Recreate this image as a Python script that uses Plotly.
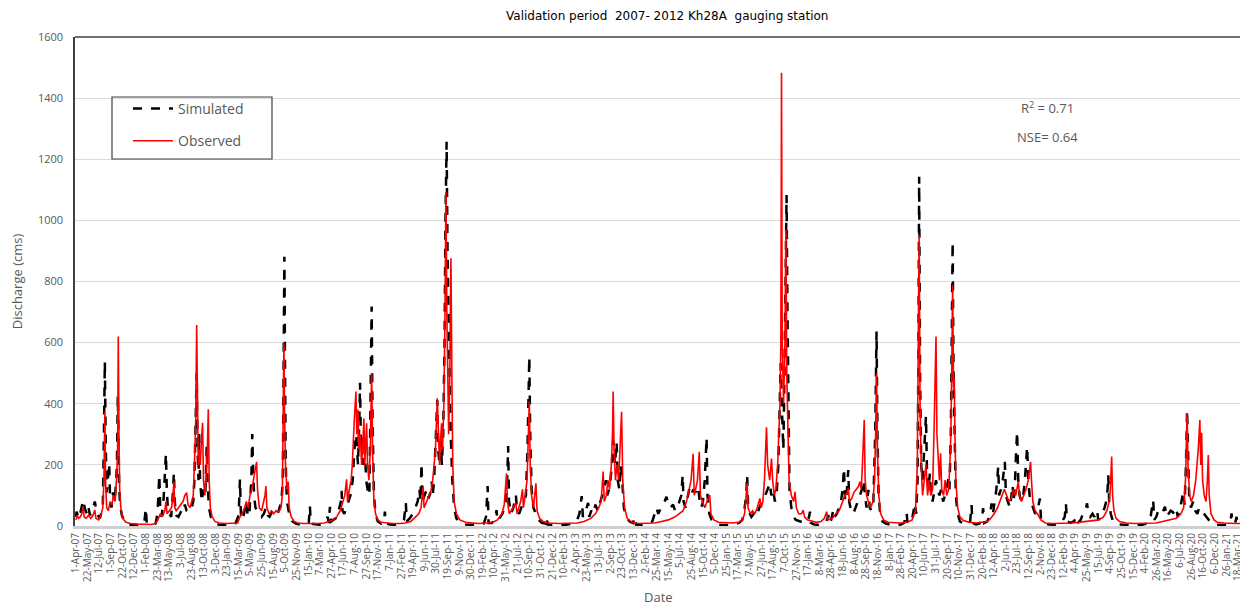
import pandas as pd
import plotly.graph_objects as go

START = pd.Timestamp("2007-04-01")

# Simulated discharge: day offset from 1-Apr-07 and value (cms)
sim_day = [0,3,12,20,32,40,48,54,62,72,83,92,105,113,118,122,127,131,135,140,146,150,156,163,170,176,180,184,187,190,195,202,212,225,245,270,290,300,307,311,330,350,358,362,366,370,376,385,391,395,399,404,410,418,425,430,434,440,450,460,470,478,486,495,505,515,520,525,530,534,538,541,545,552,560,568,574,578,584,592,603,620,650,680,700,712,716,720,724,732,742,749,754,762,770,774,778,782,788,795,805,815,825,834,842,850,860,868,878,888,895,902,908,911,915,918,921,926,932,940,950,965,990,1010,1022,1027,1031,1050,1070,1085,1095,1105,1110,1115,1120,1130,1140,1150,1158,1163,1166,1170,1178,1186,1195,1205,1215,1222,1230,1238,1244,1247,1251,1256,1262,1268,1274,1280,1288,1292,1295,1298,1302,1308,1315,1325,1340,1352,1356,1360,1380,1400,1420,1440,1448,1452,1465,1478,1490,1500,1508,1512,1517,1521,1530,1540,1548,1556,1562,1566,1572,1580,1586,1590,1596,1602,1606,1612,1618,1622,1627,1631,1636,1640,1645,1652,1660,1670,1685,1710,1740,1770,1790,1800,1807,1811,1825,1840,1846,1850,1862,1872,1880,1888,1893,1897,1901,1910,1920,1926,1931,1936,1945,1955,1965,1975,1982,1986,1990,1994,2000,2008,2018,2030,2045,2060,2066,2070,2090,2120,2150,2180,2200,2210,2220,2225,2235,2242,2248,2253,2262,2272,2280,2290,2300,2310,2318,2326,2332,2340,2346,2352,2358,2366,2373,2378,2385,2392,2398,2405,2415,2430,2445,2453,2458,2480,2510,2530,2540,2548,2556,2565,2575,2584,2592,2600,2610,2621,2630,2640,2650,2657,2663,2667,2675,2684,2692,2700,2710,2720,2731,2738,2745,2752,2760,2768,2772,2780,2790,2805,2830,2860,2890,2910,2925,2935,2942,2946,2950,2958,2965,2975,2985,2995,3005,3015,3025,3035,3046,3052,3060,3068,3075,3083,3088,3093,3098,3105,3110,3115,3119,3123,3127,3132,3140,3150,3160,3175,3190,3200,3210,3218,3222,3226,3240,3260,3280,3295,3302,3306,3315,3324,3330,3340,3350,3358,3365,3371,3376,3382,3390,3394,3402,3412,3422,3432,3441,3450,3456,3462,3470,3478,3484,3492,3500,3508,3514,3518,3523,3530,3540,3555,3575,3600,3620,3635,3646,3650,3660,3672,3682,3688,3694,3698,3701,3705,3710,3716,3722,3731,3736,3742,3748,3753,3760,3768,3775,3782,3790,3798,3806,3815,3822,3829,3834,3840,3844,3848,3852,3856,3862,3870,3880,3895,3915,3925,3931,3935,3950,3965,3975,3982,3987,4000,4010,4019,4025,4032,4040,4048,4052,4060,4068,4077,4082,4090,4100,4106,4111,4116,4122,4127,4131,4136,4142,4150,4158,4165,4171,4175,4180,4186,4192,4200,4210,4220,4231,4236,4250,4270,4290,4310,4325,4340,4345,4350,4365,4380,4392,4398,4410,4420,4430,4438,4443,4452,4462,4470,4482,4487,4496,4505,4515,4522,4528,4531,4535,4542,4550,4560,4575,4600,4640,4680,4700,4715,4722,4728,4733,4742,4750,4760,4770,4780,4786,4795,4805,4815,4823,4831,4836,4845,4853,4860,4866,4872,4877,4881,4886,4894,4904,4913,4922,4930,4940,4950,4960,4972,4985,5000,5030,5060,5068,5072,5076,5085,5090,5094,5098,5105,5113]
sim_val = [30,47,25,45,85,55,40,63,35,50,80,40,25,45,60,250,538,260,110,150,205,90,60,110,80,140,200,429,300,120,60,35,15,8,3,2,3,10,58,8,4,8,40,100,167,60,30,90,180,236,120,50,40,30,100,175,80,35,30,45,40,70,50,45,50,80,150,300,500,250,150,303,150,80,120,100,260,140,60,30,15,5,3,4,8,30,70,153,40,20,50,80,30,50,150,301,180,100,60,50,40,30,40,60,35,30,45,40,55,45,60,80,150,400,881,500,200,80,50,25,15,8,4,3,10,65,8,5,4,10,15,30,10,63,15,20,25,40,60,80,115,50,40,60,80,100,150,250,300,200,350,469,250,300,200,250,150,120,100,300,550,718,350,100,40,15,8,10,47,8,5,4,8,20,76,15,25,40,60,80,120,80,205,80,100,120,90,110,145,100,150,300,412,250,200,280,200,300,600,1000,1257,900,600,500,300,150,60,25,10,5,4,5,8,30,131,10,10,20,52,15,30,40,60,80,150,262,80,40,60,80,101,50,40,60,80,100,250,400,554,300,120,60,40,20,10,8,30,5,4,3,4,8,20,40,98,30,40,60,76,30,50,40,70,50,80,100,120,150,100,120,150,200,280,200,276,150,120,200,150,60,30,15,10,30,5,4,6,15,40,60,40,55,70,80,96,70,60,70,50,60,80,100,167,80,60,90,120,100,120,110,129,80,60,80,150,290,100,40,20,8,4,3,5,10,20,60,100,167,70,40,30,40,30,50,70,80,100,120,140,100,120,80,100,200,350,532,400,250,500,900,1083,700,300,120,60,30,20,15,12,10,15,30,47,10,5,4,8,15,36,8,20,52,30,40,60,80,120,189,80,100,183,80,50,40,60,80,100,120,150,100,60,118,60,50,80,300,636,300,100,40,15,8,4,3,5,10,44,8,10,30,74,40,150,600,1143,500,200,150,250,360,150,120,172,100,80,120,150,120,100,120,80,100,120,153,120,300,600,930,500,300,100,40,15,8,4,15,69,10,5,8,20,58,10,15,30,74,40,80,120,194,100,120,150,210,100,80,60,100,134,80,150,250,309,150,100,80,100,150,200,260,150,100,80,60,40,50,90,20,8,5,4,6,10,30,74,15,10,15,30,10,20,40,50,74,40,30,40,30,52,20,30,40,60,80,120,167,80,40,20,10,5,4,3,4,8,20,50,85,20,30,50,40,45,63,30,40,50,45,35,52,30,50,80,112,70,200,380,200,100,60,80,50,40,60,50,40,30,20,10,5,3,5,20,41,10,8,15,30,10,8,5]

# Observed discharge: day offset from 1-Apr-07 and value (cms)
obs_day = [0,6,12,20,28,32,36,45,55,65,75,83,88,100,110,118,123,127,130,135,142,150,158,165,172,178,183,186,189,192,197,205,220,240,270,300,330,350,360,370,380,390,395,400,410,420,426,430,434,440,450,460,470,478,486,492,500,508,515,520,526,530,533,537,541,546,551,556,560,566,572,577,581,585,590,598,610,630,660,690,710,720,730,740,748,756,764,772,778,785,793,797,805,815,825,830,834,838,848,858,868,878,890,900,906,910,913,916,920,926,932,936,945,958,975,1000,1030,1060,1090,1110,1130,1145,1160,1172,1180,1188,1192,1200,1208,1213,1217,1222,1229,1233,1238,1242,1248,1254,1260,1264,1268,1272,1276,1280,1286,1292,1296,1298,1302,1308,1315,1325,1340,1360,1390,1420,1445,1470,1490,1505,1515,1524,1528,1540,1550,1560,1566,1572,1578,1586,1590,1596,1600,1605,1609,1615,1620,1624,1628,1632,1636,1641,1646,1650,1654,1660,1670,1685,1710,1740,1770,1800,1830,1850,1870,1880,1886,1890,1894,1902,1910,1920,1931,1936,1945,1952,1960,1964,1972,1980,1986,1990,1994,2000,2008,2014,2019,2024,2035,2050,2080,2120,2160,2200,2230,2260,2280,2295,2305,2314,2319,2328,2335,2342,2350,2355,2358,2362,2368,2375,2382,2388,2395,2400,2408,2420,2440,2470,2510,2540,2570,2600,2630,2650,2665,2680,2690,2700,2709,2714,2720,2728,2736,2741,2750,2760,2770,2782,2787,2800,2820,2850,2880,2910,2925,2935,2946,2950,2960,2970,2980,2990,3002,3008,3015,3022,3028,3031,3036,3045,3053,3058,3065,3072,3080,3086,3090,3094,3097,3100,3106,3112,3116,3120,3125,3130,3140,3150,3156,3162,3172,3185,3192,3198,3210,3230,3250,3270,3285,3295,3300,3320,3335,3350,3365,3375,3385,3390,3395,3405,3415,3425,3435,3441,3447,3452,3456,3460,3464,3470,3478,3488,3498,3505,3510,3514,3518,3524,3532,3545,3565,3590,3620,3650,3670,3685,3693,3697,3701,3705,3710,3716,3725,3731,3738,3745,3752,3760,3766,3771,3775,3779,3785,3790,3795,3800,3808,3815,3822,3830,3836,3840,3844,3848,3852,3855,3858,3862,3870,3880,3895,3920,3950,3980,4000,4015,4030,4045,4055,4065,4075,4085,4095,4105,4115,4125,4136,4142,4150,4160,4170,4180,4186,4190,4194,4200,4210,4220,4235,4255,4290,4330,4370,4400,4430,4460,4490,4510,4525,4535,4540,4546,4550,4556,4565,4580,4610,4650,4700,4740,4770,4800,4830,4850,4862,4870,4874,4877,4881,4888,4895,4905,4915,4922,4926,4933,4937,4941,4945,4952,4960,4966,4970,4974,4982,4995,5010,5040,5070,5090,5113]
obs_val = [20,35,25,30,45,63,30,25,35,25,35,52,25,20,35,60,150,374,150,60,50,80,70,100,80,150,250,620,300,120,60,25,12,8,6,5,5,8,20,40,30,50,80,40,50,60,100,145,60,50,60,70,80,100,109,70,60,80,100,200,350,658,400,200,250,200,280,338,150,100,180,250,382,150,60,30,15,10,8,8,10,30,40,60,80,60,100,120,150,180,210,120,60,50,80,100,131,60,40,50,40,50,45,60,100,300,598,350,200,120,145,60,30,15,10,8,7,8,10,15,20,30,50,80,100,153,80,120,150,200,300,350,440,300,380,250,300,200,280,352,200,250,336,200,150,250,400,500,250,80,40,20,12,10,8,8,10,15,30,40,60,129,60,80,100,120,150,200,250,418,300,200,280,336,250,400,700,1094,700,400,300,500,876,500,200,80,40,20,12,10,8,10,12,20,40,70,120,172,80,40,50,60,74,40,60,80,120,60,100,150,300,407,200,100,60,100,140,50,25,15,10,8,8,10,15,25,40,60,80,178,80,100,150,120,200,300,440,250,150,200,150,250,374,150,60,25,12,8,8,10,15,20,30,40,50,80,120,150,236,100,120,150,243,100,80,60,80,101,40,20,12,10,10,12,20,40,140,60,40,50,40,60,90,60,80,150,250,323,200,150,221,150,100,120,200,300,400,600,1483,600,400,600,969,500,250,150,100,80,112,60,40,40,52,30,20,15,12,15,25,47,20,25,40,50,80,100,110,123,80,90,110,120,130,145,120,200,260,347,150,100,80,60,80,150,300,500,250,100,40,20,12,10,10,12,20,50,200,600,952,400,200,100,150,200,100,150,100,120,300,450,620,300,200,150,238,120,100,150,100,120,200,300,500,789,450,483,300,150,60,30,18,12,10,12,15,25,40,60,80,100,120,100,80,90,120,100,145,100,80,100,120,150,180,210,150,80,50,40,20,10,8,8,10,12,15,18,20,30,50,80,120,227,100,50,25,15,10,8,8,10,15,20,25,40,60,150,250,369,200,100,80,100,150,200,250,347,200,305,150,100,80,150,232,100,40,20,12,10,8,8,8]

# Axis ticks: every 51 days from 1-Apr-07 to 18-Mar-21
tick_days = list(range(0, 5101, 51))
y_ticks = [0, 200, 400, 600, 800, 1000, 1200, 1400, 1600]

sim_x = START + pd.to_timedelta(sim_day, unit="D")
obs_x = START + pd.to_timedelta(obs_day, unit="D")
tick_dates = START + pd.to_timedelta(tick_days, unit="D")
tick_text = [f"{d.day}-{d.strftime('%b-%y')}" for d in tick_dates]

GRAY = "#595959"
# page body has an 8px margin: figure is 1240x599 placed at (8, 8)
W, H = 1240, 599
L, T = 67, 29
PW, PH = 1167, 489   # plot area size


def px(xs):   # screen x -> paper x
    return (xs - 8 - L) / PW


def py(ys):   # screen y -> paper y
    return 1 - (ys - 8 - T) / PH


fig = go.Figure()
fig.add_trace(go.Scatter(x=sim_x, y=sim_val, mode="lines", name="Simulated",
                         legendgroup="a",
                         line=dict(color="black", width=2.5, dash="dash")))
fig.add_trace(go.Scatter(x=obs_x, y=obs_val, mode="lines", name="Observed",
                         legendgroup="b",
                         line=dict(color="#ff0000", width=1.6)))

x0 = START - pd.Timedelta(days=4)
x1 = START + pd.Timedelta(days=5118)

fig.update_layout(
    width=W, height=H,
    margin=dict(l=L, r=W - L - PW, t=T, b=H - T - PH),
    paper_bgcolor="white", plot_bgcolor="white",
    font=dict(family="Open Sans", color=GRAY),
    showlegend=True,
    legend=dict(x=px(128), y=py(93), xanchor="left", yanchor="top",
                bgcolor="rgba(0,0,0,0)", borderwidth=0,
                font=dict(size=14, color=GRAY, family="Open Sans"),
                traceorder="grouped", tracegroupgap=11, itemwidth=40),
    xaxis=dict(type="date", range=[x0, x1], tickmode="array",
               tickvals=tick_dates, ticktext=tick_text, tickangle=-90,
               tickfont=dict(size=10, color=GRAY, family="Open Sans"),
               showgrid=False, zeroline=False, automargin=False,
               showline=True, linecolor="#d0d0d0", linewidth=3),
    yaxis=dict(range=[0, 1600], tickmode="array", tickvals=y_ticks,
               tickfont=dict(size=11, color=GRAY, family="Open Sans"),
               showgrid=True, gridcolor="#d9d9d9", gridwidth=1,
               zeroline=False, automargin=False,
               showline=True, linecolor="#404040", linewidth=1.5, mirror=True,
               ticklabelstandoff=8,
               title=dict(text="Discharge (cms)", font=dict(size=13, color=GRAY), standoff=12)),
    shapes=[
        dict(type="line", xref="paper", yref="paper", x0=0, x1=1, y0=1, y1=1,
             line=dict(color="#404040", width=1.5)),
        dict(type="rect", xref="paper", yref="paper",
             x0=px(112), x1=px(272), y0=py(159), y1=py(97),
             line=dict(color="#404040", width=1.2), fillcolor="rgba(0,0,0,0)"),
    ],
    annotations=[
        dict(text="Validation period\u00a0 2007- 2012 Kh28A\u00a0 gauging station",
             xref="paper", yref="paper", x=px(667), y=py(16),
             xanchor="center", yanchor="middle", showarrow=False,
             font=dict(family="DejaVu Sans", size=12, color="black")),
        dict(text="Date", xref="paper", yref="paper",
             x=px(658), y=py(597), xanchor="center", yanchor="middle",
             showarrow=False, font=dict(size=13, color=GRAY)),
        dict(text="R<sup>2</sup> = 0.71", xref="paper", yref="paper",
             x=px(1047), y=py(108), xanchor="center", yanchor="middle",
             showarrow=False, font=dict(size=13, color=GRAY)),
        dict(text="NSE= 0.64", xref="paper", yref="paper",
             x=px(1047), y=py(137), xanchor="center", yanchor="middle",
             showarrow=False, font=dict(size=13, color=GRAY)),
    ],
)

fig.write_html("out.html")
